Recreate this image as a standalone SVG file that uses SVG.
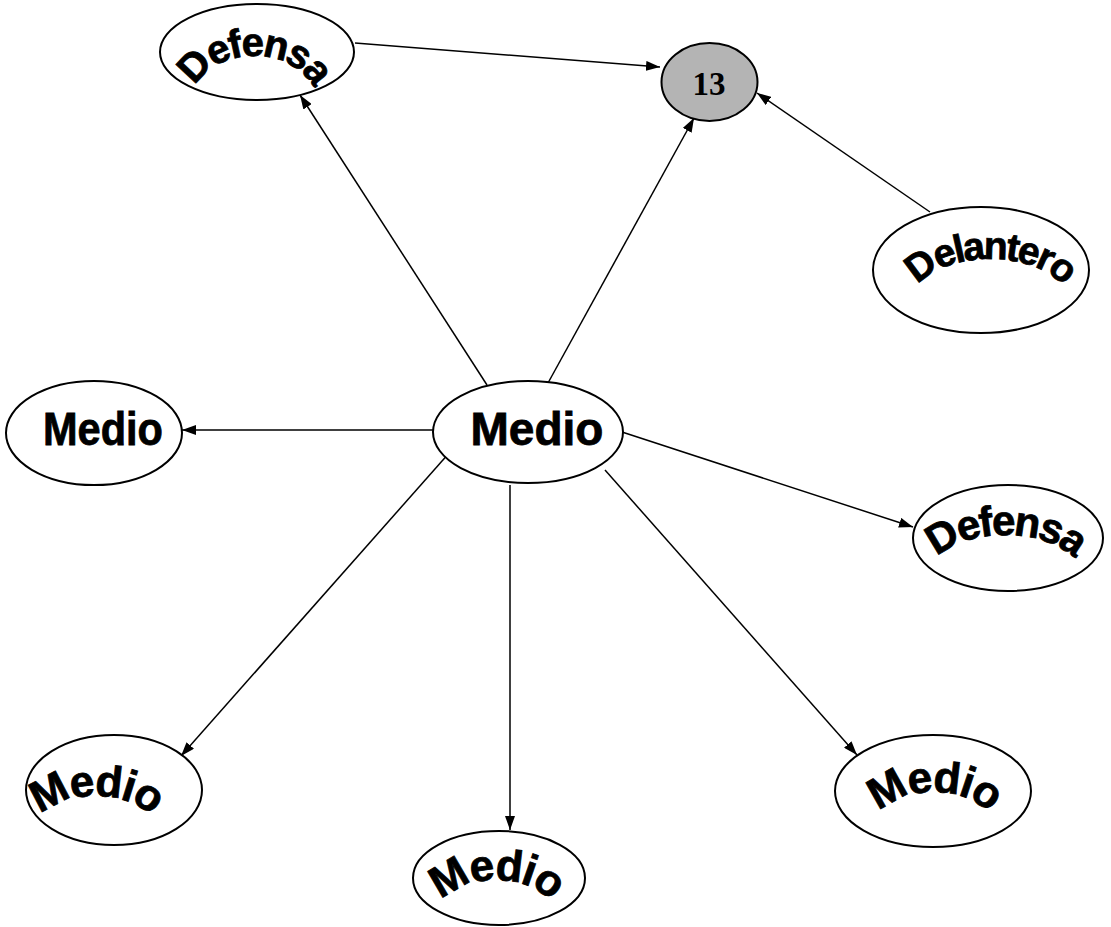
<svg xmlns="http://www.w3.org/2000/svg" width="1111" height="927" viewBox="0 0 1111 927">
<style>
.n{fill:#fff;stroke:#000;stroke-width:2}
.g{fill:#b4b4b4;stroke:#000;stroke-width:2}
.t{font-family:"Liberation Sans",Arial,sans-serif;font-weight:bold;fill:#000;stroke:#000;stroke-width:0.8}
.c line{stroke:#000;stroke-width:1.5;marker-end:url(#ah)}
</style>
<defs>
<marker id="ah" viewBox="0 0 14 10" refX="14" refY="5" markerWidth="14" markerHeight="10" markerUnits="userSpaceOnUse" orient="auto">
<path d="M0,0 L14,5 L0,10 Z" fill="#000"/>
</marker>
<path id="p1" d="M192,102 A62,46 0 0 1 316,102"/>
<path id="p2" d="M912,302 A78,43 0 0 1 1068,302"/>
<path id="p3" d="M927,579 A78,44 0 0 1 1083,579"/>
<path id="p4" d="M32,836 A64,40 0 0 1 160,836"/>
<path id="p5" d="M436,918 A60,38 0 0 1 556,918"/>
<path id="p6" d="M872,832 A62,40 0 0 1 996,832"/>
</defs>
<rect width="1111" height="927" fill="#fff"/>
<g class="c">
<line x1="355" y1="43" x2="660" y2="67"/>
<line x1="487" y1="385" x2="300" y2="95"/>
<line x1="548" y1="383" x2="694" y2="118"/>
<line x1="930" y1="212" x2="757" y2="93"/>
<line x1="433" y1="430" x2="182" y2="430"/>
<line x1="622" y1="432" x2="913" y2="527"/>
<line x1="450" y1="452" x2="181" y2="756"/>
<line x1="510" y1="485" x2="510" y2="830"/>
<line x1="605" y1="470" x2="857" y2="755"/>
</g>
<g id="defensa-top"><ellipse class="n" cx="257" cy="52" rx="97" ry="48"/><text class="t" font-size="40" letter-spacing="-2.5"><textPath href="#p1" startOffset="50%" text-anchor="middle">Defensa</textPath></text></g>
<g id="n13"><ellipse class="g" cx="709.5" cy="82" rx="48" ry="39"/><text x="709" y="95" font-family="Liberation Serif,Times New Roman,serif" font-weight="bold" font-size="33" text-anchor="middle">13</text></g>
<g id="delantero"><ellipse class="n" cx="981" cy="270" rx="108" ry="63"/><text class="t" font-size="39" letter-spacing="-2.5"><textPath href="#p2" startOffset="50%" text-anchor="middle">Delantero</textPath></text></g>
<g id="medio-left"><ellipse class="n" cx="94" cy="433" rx="88" ry="52"/><text class="t" x="103" y="445" font-size="47" text-anchor="middle" textLength="120" lengthAdjust="spacingAndGlyphs">Medio</text></g>
<g id="medio-center"><ellipse class="n" cx="528" cy="432" rx="95" ry="51"/><text class="t" x="537" y="445" font-size="46" text-anchor="middle">Medio</text></g>
<g id="defensa-right"><ellipse class="n" cx="1008" cy="538" rx="95" ry="53"/><text class="t" font-size="42" letter-spacing="-2.5"><textPath href="#p3" startOffset="50%" text-anchor="middle">Defensa</textPath></text></g>
<g id="medio-bl"><ellipse class="n" cx="114" cy="790" rx="88" ry="55"/><text class="t" font-size="44" letter-spacing="-1.5"><textPath href="#p4" startOffset="50%" text-anchor="middle">Medio</textPath></text></g>
<g id="medio-bottom"><ellipse class="n" cx="499" cy="878" rx="86" ry="47"/><text class="t" font-size="44" letter-spacing="-1.5"><textPath href="#p5" startOffset="50%" text-anchor="middle">Medio</textPath></text></g>
<g id="medio-br"><ellipse class="n" cx="933" cy="791" rx="98" ry="56"/><text class="t" font-size="44" letter-spacing="-1.5"><textPath href="#p6" startOffset="50%" text-anchor="middle">Medio</textPath></text></g>
</svg>
